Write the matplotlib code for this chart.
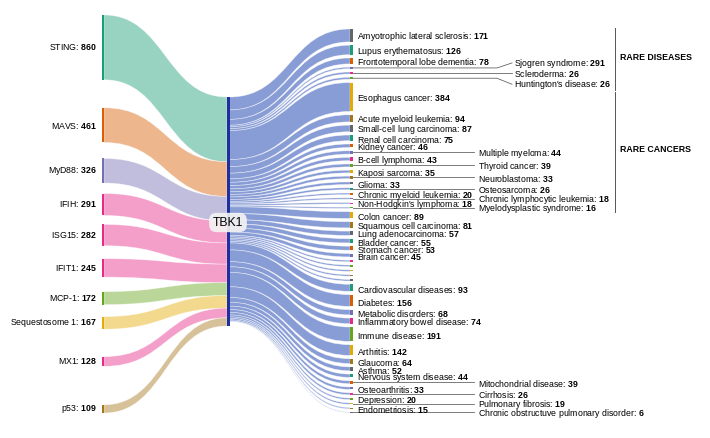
import matplotlib

matplotlib.use("Agg")
import matplotlib.pyplot as plt
from matplotlib.path import Path
from matplotlib.patches import PathPatch, Rectangle

plt.rcParams["font.family"] = ["Liberation Sans", "DejaVu Sans"]
plt.rcParams["mathtext.fontset"] = "custom"
plt.rcParams["mathtext.rm"] = "Liberation Sans"
plt.rcParams["mathtext.bf"] = "Liberation Sans:bold"

# upstream partners feeding TBK1
source_names = ["STING", "MAVS", "MyD88", "IFIH", "ISG15", "IFIT1", "MCP-1",
                "Sequestosome 1", "MX1", "p53"]
source_values = [860, 461, 326, 291, 282, 245, 172, 167, 128, 109]

# downstream diseases (label value, band width)
rare_disease_names = ["Amyotrophic lateral sclerosis", "Lupus erythematosus",
                      "Frontotemporal lobe dementia", "Sjogren syndrome",
                      "Scleroderma", "Huntington's disease"]
rare_disease_values = [171, 126, 78, 291, 26, 26]
rare_disease_flows = [171, 126, 78, 20, 26, 26]

rare_cancer_names = ["Esophagus cancer", "Acute myeloid leukemia",
                     "Small-cell lung carcinoma", "Renal cell carcinoma",
                     "Kidney cancer", "Multiple myeloma", "B-cell lymphoma",
                     "Thyroid cancer", "Kaposi sarcoma", "Neuroblastoma",
                     "Glioma", "Osteosarcoma", "Chronic myeloid leukemia",
                     "Chronic lymphocytic leukemia", "Non-Hodgkin's lymphoma",
                     "Myelodysplastic syndrome"]
rare_cancer_values = [384, 94, 87, 75, 46, 44, 43, 39, 35, 33, 33, 26, 20, 18, 18, 16]

cancer_names = ["Colon cancer", "Squamous cell carcinoma", "Lung adenocarcinoma",
                "Bladder cancer", "Stomach cancer", "Brain cancer"]
cancer_values = [89, 81, 57, 55, 53, 45]

unlabeled_flows = [20, 20, 20, 20, 20]

other_names = ["Cardiovascular diseases", "Diabetes", "Metabolic disorders",
               "Inflammatory bowel disease", "Immune disease", "Arthritis",
               "Glaucoma", "Asthma", "Nervous system disease",
               "Mitochondrial disease", "Osteoarthritis", "Cirrhosis",
               "Depression", "Pulmonary fibrosis", "Endometriosis",
               "Chronic obstructuve pulmonary disorder"]
other_values = [93, 156, 68, 74, 191, 142, 64, 52, 44, 39, 33, 26, 20, 19, 15, 6]

# labels pushed out to a second column with a leader line (value = y shift)
side_labels = {"Sjogren syndrome": -5, "Scleroderma": 0, "Huntington's disease": 6,
               "Multiple myeloma": 0, "Thyroid cancer": 0, "Neuroblastoma": 0,
               "Osteosarcoma": 0, "Chronic lymphocytic leukemia": 0,
               "Myelodysplastic syndrome": 0, "Mitochondrial disease": 0,
               "Cirrhosis": 0, "Pulmonary fibrosis": 0,
               "Chronic obstructuve pulmonary disorder": 0}

DARK2 = ["#1b9e77", "#d95f02", "#7570b3", "#e7298a", "#66a61e", "#e6ab02",
         "#a6761d", "#666666"]
source_color_idx = [0, 1, 2, 3, 3, 3, 4, 5, 3, 6]
HUB_COLOR = "#1f2f9e"
OUT_LINK = "#133bad"
LINK_ALPHA = 0.45
FS = 6.3


def band(ax, x0, x1, s0, s1, t0, t1, color, alpha):
    """Filled bezier ribbon from (x0, s0..s1) to (x1, t0..t1)."""
    xm = (x0 + x1) / 2
    verts = [(x0, s0), (xm, s0), (xm, t0), (x1, t0), (x1, t1),
             (xm, t1), (xm, s1), (x0, s1), (x0, s0)]
    codes = [Path.MOVETO, Path.CURVE4, Path.CURVE4, Path.CURVE4, Path.LINETO,
             Path.CURVE4, Path.CURVE4, Path.CURVE4, Path.CLOSEPOLY]
    ax.add_patch(PathPatch(Path(verts, codes), facecolor=color, alpha=alpha,
                           edgecolor="white", lw=0.5))


fig = plt.figure(figsize=(7.1, 4.38), dpi=100)
ax = fig.add_axes([0, 0, 1, 1])
ax.set_xlim(0, 710)
ax.set_ylim(438, 0)
ax.axis("off")

# build the target list
right_names = (rare_disease_names + rare_cancer_names + cancer_names
               + [""] * len(unlabeled_flows) + other_names)
right_values = (rare_disease_values + rare_cancer_values + cancer_values
                + [None] * len(unlabeled_flows) + other_values)
right_flows = (rare_disease_flows + rare_cancer_values + cancer_values
               + unlabeled_flows + other_values)

# layout (pixels)
hub_top, hub_h = 97, 229
scale = hub_h / max(sum(source_values), sum(right_flows))
left_x0, left_x1 = 101.5, 104
hub_x0, hub_x1 = 227, 229.5
right_x0, right_x1 = 350, 352.5
left_top = 15
left_gaps = [28, 16, 10.5, 9, 13, 14.5, 12, 27.5, 38.5]
right_top, right_bottom = 29, 412.5
right_gap = ((right_bottom - right_top - sum(right_flows) * scale)
             / (len(right_flows) - 1))

# left nodes and their ribbons into TBK1
y = left_top
hub_y = hub_top
for i, (name, val) in enumerate(zip(source_names, source_values)):
    if i > 0:
        y += left_gaps[i - 1]
    h = val * scale
    color = DARK2[source_color_idx[i]]
    band(ax, left_x1, hub_x0, y, y + h, hub_y, hub_y + h, color, LINK_ALPHA)
    ax.add_patch(Rectangle((left_x0, y), left_x1 - left_x0, h,
                           facecolor=color, lw=0))
    ax.text(97, y + h / 2, f"{name}: $\\mathbf{{{val}}}$", ha="right",
            va="center", fontsize=FS)
    y += h
    hub_y += h

# right nodes and ribbons out of TBK1
y = right_top
hub_y = hub_top
for i, (name, val, flow) in enumerate(zip(right_names, right_values, right_flows)):
    h = flow * scale
    band(ax, hub_x1, right_x0, hub_y, hub_y + h, y, y + h, OUT_LINK, 0.5)
    color = DARK2[(i + 7) % 8]
    bar_h = max(h, 0.9)
    yc = y + h / 2
    ax.add_patch(Rectangle((right_x0, yc - bar_h / 2), right_x1 - right_x0,
                           bar_h, facecolor=color, lw=0, zorder=3))
    if name:
        label = f"{name}: $\\mathbf{{{val}}}$"
        if name in side_labels:
            off = side_labels[name]
            if name in rare_disease_names:
                ax.plot([right_x1, 497, 512], [yc, yc, yc + off],
                        color="#666666", lw=0.6)
                ax.text(514, yc + off + 0.5, label, ha="left", va="center",
                        fontsize=FS)
            else:
                ax.plot([right_x1, 474], [yc, yc], color="#666666", lw=0.6)
                ax.text(478, yc + 1, label, ha="left", va="center", fontsize=FS)
        else:
            ax.text(357, yc + 1.5, label, ha="left", va="center", fontsize=FS)
    y += h + right_gap
    hub_y += h

# TBK1 hub
ax.add_patch(Rectangle((hub_x0, hub_top), hub_x1 - hub_x0, hub_h,
                       facecolor=HUB_COLOR, lw=0, zorder=3))
ax.text(228, 222.5, "TBK1", ha="center", va="center", fontsize=8.8, zorder=5,
        bbox=dict(boxstyle="round,pad=0.3,rounding_size=0.6",
                  facecolor="#f4f4f4", edgecolor="none", alpha=0.9))

# group brackets
ax.plot([615, 615], [28, 89.5], color="#555555", lw=0.7)
ax.plot([615, 615], [92, 212], color="#555555", lw=0.7)
ax.text(620, 58, "RARE DISEASES", ha="left", va="center", fontsize=FS,
        fontweight="bold")
ax.text(620, 150, "RARE CANCERS", ha="left", va="center", fontsize=FS,
        fontweight="bold")

fig.savefig("out.png", dpi=100)
